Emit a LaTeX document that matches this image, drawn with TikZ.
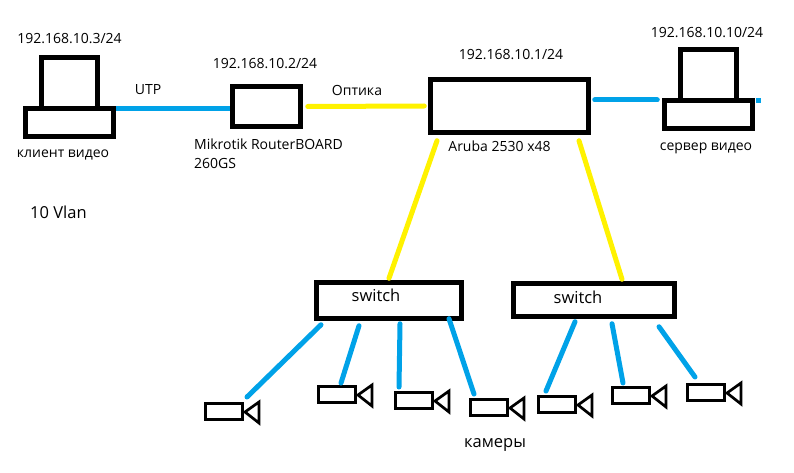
\documentclass[tikz,border=0pt]{standalone}
\usepackage{fontspec}
\setmainfont{Open Sans}
\usetikzlibrary{positioning}
\definecolor{utpblue}{HTML}{00A2E8}
\definecolor{fiberyellow}{HTML}{FFF200}

\begin{document}
\begin{tikzpicture}[x=1pt, y=-1pt,
    box/.style = {draw, line width=4.5pt, minimum width=#1, inner sep=0pt},
    txt/.style = {inner sep=0pt, text height=10pt, text depth=3pt, font=\fontsize{14}{17}\selectfont},
    bigtxt/.style = {txt, font=\fontsize{16.5}{20}\selectfont},
    utp/.style = {utpblue, line width=5pt, line cap=round},
    fiber/.style = {fiberyellow, line width=5pt, line cap=round},
    cam/.style = {draw, line width=3pt, minimum width=37pt, minimum height=16pt, inner sep=0pt},
    lens/.style = {draw, line width=2.7pt}]
    \useasboundingbox (0,0) rectangle (794,473);

    \node[box=56pt, minimum height=50.5pt] (mon1) at (69.5,82.75) {};
    \node[box=88pt, minimum height=28pt] (client) at (69.5,122.5) {};
    \node[box=68pt, minimum height=40pt] (router) at (266.5,106.5) {};
    \node[box=158pt, minimum height=53pt] (aruba) at (509.5,106) {};
    \node[box=56pt, minimum height=50.5pt] (mon2) at (708.5,74.75) {};
    \node[box=88pt, minimum height=28pt] (server) at (708.5,114.5) {};
    \node[box=145pt, minimum height=36pt] (sw1) at (389,300.5) {};
    \node[box=161pt, minimum height=33pt] (sw2) at (594,300) {};

    \node[txt] (ip3) [above=9pt of mon1] {192.168.10.3/24};
    \node[txt] (ip2) [above=13pt of router, xshift=-1.5pt] {192.168.10.2/24};
    \node[txt] (ip1) [above=15pt of aruba, xshift=1.5pt] {192.168.10.1/24};
    \node[txt] (ip10) [above=7pt of mon2, xshift=-1.5pt] {192.168.10.10/24};
    \node[txt] (clientname) [below=9pt of client, xshift=-6.5pt] {клиент видео};
    \node[txt] (servername) [below=10pt of server, xshift=-2.5pt] {сервер видео};
    \node[txt] (arubaname) [below=7pt of aruba, xshift=-10pt] {Aruba 2530 x48};
    \node[txt, anchor=north west] (mikrotik) at (194,139) {Mikrotik RouterBOARD};
    \node[txt, anchor=north west] (model) [below=6pt of mikrotik.south west, anchor=north west] {260GS};
    \node[bigtxt, anchor=west] (vlan) at (30,215) {10 Vlan};
    \node[txt] (utplabel) at (148,91) {UTP};
    \node[txt] (fiberlabel) at (357,92) {Оптика};
    \node[bigtxt] (switch1) at (376,298) {switch};
    \node[bigtxt] (switch2) at (578,300) {switch};
    \node[bigtxt] (cams) at (495,444) {камеры};

    \draw[utpblue, line width=5pt] ([yshift=13.5pt]client.east) -- ([yshift=-2.5pt]router.west);
    \draw[fiber] ([xshift=5pt]router.east) -- ([xshift=-4pt]aruba.west);
    \draw[utp] ([xshift=4pt, yshift=6pt]aruba.east) -- ([xshift=-5pt, yshift=14.5pt]server.west);
    \draw[utpblue, line width=5pt] ([xshift=1pt, yshift=13.5pt]server.east) -- ++(5,0);
    \draw[fiber] ([xshift=-72.5pt, yshift=-6pt]aruba.south) -- ([yshift=2pt]sw1.north);
    \draw[fiber] ([xshift=69.5pt, yshift=-6pt]aruba.south) -- ([xshift=28pt, yshift=2pt]sw2.north);

    \foreach \i/\x/\y in {1/224/411.5, 2/337/394.5, 3/414/400.5, 4/489/407.5, 5/557/404.5, 6/631/395.5, 7/706/392.5} {
        \node[cam] (cam\i) at (\x,\y) {};
        \draw[lens] ([xshift=35pt, yshift=9.5pt]cam\i.center) -- ++(-14,10) -- ++(14,11) -- cycle;
    }

    \foreach \sw/\i/\sx/\sy/\cx/\cy in {sw1/1/-68/-4/23/5, sw1/2/-30/-5/4/2, sw1/3/11/-3/-15/4, sw1/4/60/2/-15/4,
        sw2/5/-19/-3/-11/4, sw2/6/18/-5/-8/3, sw2/7/65/-8/-11/6} {
        \draw[utp] ([xshift=\sx pt, yshift=\sy pt]\sw.south) -- ([xshift=\cx pt, yshift=\cy pt]cam\i.north);
    }
\end{tikzpicture}
\end{document}
